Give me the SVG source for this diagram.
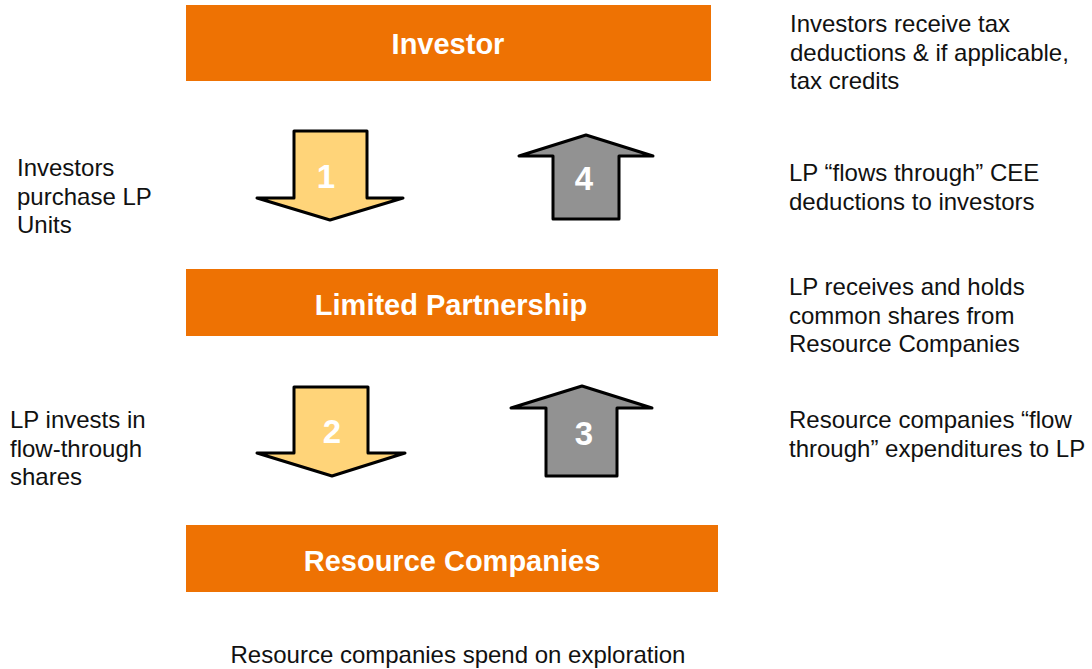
<svg xmlns="http://www.w3.org/2000/svg" width="1092" height="669" viewBox="0 0 1092 669">
<style>
.box{fill:#EE7203}
.title{font-family:"Liberation Sans",Arial,sans-serif;font-weight:bold;font-size:29px;fill:#fff;text-anchor:middle}
.note{font-family:"Liberation Sans",Arial,sans-serif;font-size:24px;fill:#111}
.dn{fill:#FFD479;stroke:#000;stroke-width:3;stroke-linejoin:round}
.up{fill:#929292;stroke:#000;stroke-width:3;stroke-linejoin:round}
.num{font-family:"Liberation Sans",Arial,sans-serif;font-weight:bold;font-size:33px;fill:#fff;text-anchor:middle}
</style>
<rect width="1092" height="669" fill="#fff"/>
<g id="investor"><rect class="box" x="186" y="5" width="525" height="76"/><text class="title" x="448" y="54">Investor</text></g>
<g id="lp"><rect class="box" x="186" y="269" width="532" height="67"/><text class="title" x="451" y="315">Limited Partnership</text></g>
<g id="rc"><rect class="box" x="186" y="525" width="532" height="67"/><text class="title" x="452" y="571">Resource Companies</text></g>
<g id="connectors">
<g id="arrow1"><polygon class="dn" points="294,131 367,131 367,198 403,198 330,220 257,198 294,198"/><text class="num" x="326" y="188">1</text></g>
<g id="arrow4"><polygon class="up" points="553,219 619,219 619,156 653,156 586,135 519,156 553,156"/><text class="num" x="584" y="190">4</text></g>
<g id="arrow2"><polygon class="dn" points="294,387 368,387 368,453 405,453 332,476 257,453 294,453"/><text class="num" x="332" y="443">2</text></g>
<g id="arrow3"><polygon class="up" points="546,476 617,476 617,408 652,408 582,386 511,408 546,408"/><text class="num" x="584" y="445">3</text></g>
</g>
<g id="notes">
<text class="note" x="790" y="32">Investors receive tax<tspan x="790" dy="28.5">deductions &amp; if applicable,</tspan><tspan x="790" dy="28.5">tax credits</tspan></text>
<text class="note" x="17" y="176">Investors<tspan x="17" dy="28.5">purchase LP</tspan><tspan x="17" dy="28.5">Units</tspan></text>
<text class="note" x="789" y="181">LP “flows through” CEE<tspan x="789" dy="28.5">deductions to investors</tspan></text>
<text class="note" x="789" y="295">LP receives and holds<tspan x="789" dy="28.5">common shares from</tspan><tspan x="789" dy="28.5">Resource Companies</tspan></text>
<text class="note" x="10" y="428">LP invests in<tspan x="10" dy="28.5">flow-through</tspan><tspan x="10" dy="28.5">shares</tspan></text>
<text class="note" x="789" y="428">Resource companies “flow<tspan x="789" dy="28.5">through” expenditures to LP</tspan></text>
<text class="note" x="458" y="663" text-anchor="middle">Resource companies spend on exploration</text>
</g>
</svg>
